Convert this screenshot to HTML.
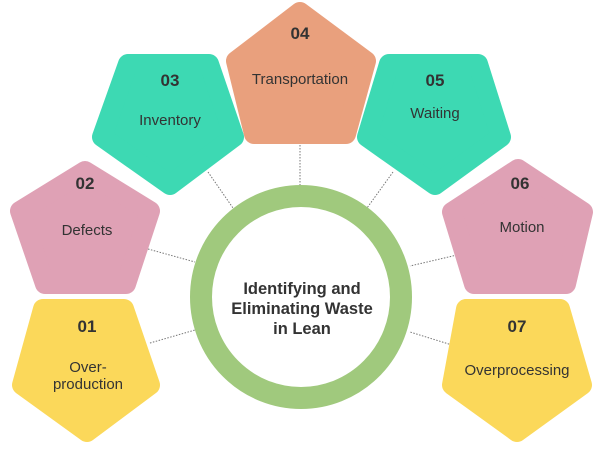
<!DOCTYPE html>
<html><head><style>
html,body{margin:0;padding:0;background:#fff;}
svg{display:block;}
text{font-family:"Liberation Sans",sans-serif;fill:#333;text-anchor:middle;}
.n{font-weight:bold;font-size:17px;}
.l{font-size:15px;}
</style></head><body>
<svg width="600" height="450" viewBox="0 0 600 450" xmlns="http://www.w3.org/2000/svg">
<g stroke="#777" stroke-width="1" stroke-dasharray="1.5,1.5">
<line x1="300" y1="145" x2="300" y2="186"/>
<line x1="208" y1="172" x2="233" y2="208"/>
<line x1="393" y1="172" x2="367" y2="208"/>
<line x1="148" y1="249" x2="195" y2="262"/>
<line x1="150" y1="343" x2="195" y2="330"/>
<line x1="457" y1="255" x2="410" y2="266"/>
<line x1="452" y1="345" x2="410" y2="332"/>
</g>
<g stroke-linejoin="round" stroke-width="20">
<polygon fill="#E9A07D" stroke="#E9A07D" points="300,12 236,61 254,134 346,134 366,61"/>
<polygon fill="#3DD9B3" stroke="#3DD9B3" points="128,64 209,64 234,137 170,185 102,137"/>
<polygon fill="#3DD9B3" stroke="#3DD9B3" points="389,64 478,64 501,137 435,185 367,137"/>
<polygon fill="#DFA1B5" stroke="#DFA1B5" points="85,171 150,211 126,284 45,284 20,211"/>
<polygon fill="#DFA1B5" stroke="#DFA1B5" points="518,169 583,212 566,284 474,284 452,212"/>
<polygon fill="#FBD85A" stroke="#FBD85A" points="43,309 124,309 150,385 87,432 22,385"/>
<polygon fill="#FBD85A" stroke="#FBD85A" points="466,309 560,309 582,385 517,432 452,385"/>
</g>
<ellipse cx="301" cy="297" rx="100" ry="101" fill="#fff" stroke="#A0C97D" stroke-width="22"/>
<text class="n" x="300" y="39">04</text>
<text class="l" x="300" y="84">Transportation</text>
<text class="n" x="170" y="86">03</text>
<text class="l" x="170" y="125">Inventory</text>
<text class="n" x="435" y="86">05</text>
<text class="l" x="435" y="118">Waiting</text>
<text class="n" x="85" y="189">02</text>
<text class="l" x="87" y="235">Defects</text>
<text class="n" x="520" y="189">06</text>
<text class="l" x="522" y="232">Motion</text>
<text class="n" x="87" y="332">01</text>
<text class="l" x="88" y="372">Over-</text>
<text class="l" x="88" y="389">production</text>
<text class="n" x="517" y="332">07</text>
<text class="l" x="517" y="375">Overprocessing</text>
<text style="font-weight:bold;font-size:16.5px" x="302" y="294">Identifying and</text>
<text style="font-weight:bold;font-size:16.5px" x="302" y="314">Eliminating Waste</text>
<text style="font-weight:bold;font-size:16.5px" x="302" y="334">in Lean</text>
</svg>
</body></html>
